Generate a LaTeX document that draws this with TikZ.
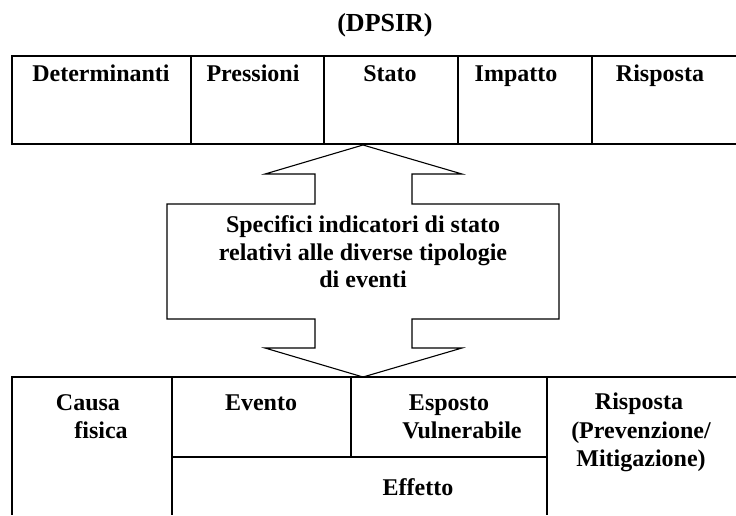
\documentclass[tikz,border=0pt]{standalone}
\usepackage{fontspec}
\setmainfont{Liberation Serif}
\begin{document}
\begin{tikzpicture}[x=1pt,y=-1pt,
  frame/.style={line width=1.3pt, draw=black},
  lbl/.style={font=\fontsize{24}{28}\selectfont\bfseries, anchor=base, inner sep=0pt, text=black}]
\useasboundingbox (0,0) rectangle (736,515);
% title
\node[lbl, font=\fontsize{26}{30}\selectfont\bfseries] (title) at (385,31) {(DPSIR)};
% top table
\draw[frame] (736,56) -- (12,56) -- (12,144) -- (736,144);
\foreach \x in {191,324,458,592} \draw[frame] (\x,56) -- (\x,144);
\node[lbl] (det) at (101,81) {Determinanti};
\node[lbl] (pre) at (253,81) {Pressioni};
\node[lbl] (sta) at (390,81) {Stato};
\node[lbl] (imp) at (516,81) {Impatto};
\node[lbl] (ris) at (660,81) {Risposta};
% double arrow
\draw[line width=1.1pt, draw=black, line join=miter, fill=white]
  (363,145) -- (462,174) -- (412,174) -- (412,204) -- (559,204) -- (559,319)
  -- (412,319) -- (412,348) -- (462,348) -- (363,377) -- (265,348) -- (315,348)
  -- (315,319) -- (167,319) -- (167,204) -- (315,204) -- (315,174) -- (265,174) -- cycle;
\node[lbl] (m1) at (363,232) {Specifici indicatori di stato};
\node[lbl] (m2) at (363,260) {relativi alle diverse tipologie};
\node[lbl] (m3) at (363,287) {di eventi};
% bottom table
\draw[frame] (736,377) -- (12,377) -- (12,515);
\draw[frame] (172,377) -- (172,515);
\draw[frame] (547,377) -- (547,515);
\draw[frame] (351,377) -- (351,457);
\draw[frame] (172,457) -- (547,457);
\node[lbl] (c1) at (88,410) {Causa};
\node[lbl] (c2) at (101,438) {fisica};
\node[lbl] (ev) at (261,410) {Evento};
\node[lbl] (es1) at (449,410) {Esposto};
\node[lbl] (es2) at (462,438) {Vulnerabile};
\node[lbl] (ef) at (418,495) {Effetto};
\node[lbl] (r1) at (639,409) {Risposta};
\node[lbl] (r2) at (641,438) {(Prevenzione/};
\node[lbl] (r3) at (641,466) {Mitigazione)};
\end{tikzpicture}
\end{document}
